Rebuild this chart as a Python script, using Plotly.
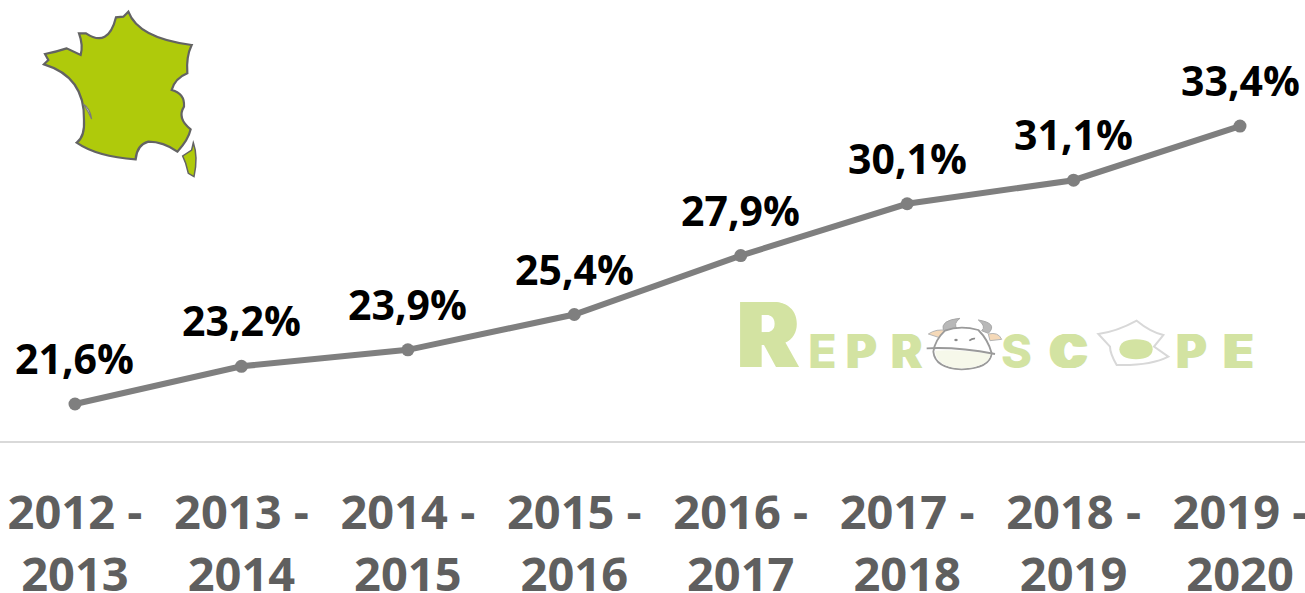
import plotly.graph_objects as go

seasons = ["2012 -<br>2013", "2013 -<br>2014", "2014 -<br>2015", "2015 -<br>2016",
           "2016 -<br>2017", "2017 -<br>2018", "2018 -<br>2019", "2019 -<br>2020"]
rates = [21.6, 23.2, 23.9, 25.4, 27.9, 30.1, 31.1, 33.4]
labels = ["21,6%", "23,2%", "23,9%", "25,4%", "27,9%", "30,1%", "31,1%", "33,4%"]

# The page is cropped by the window on the right, as in the reference.
W, H, PLOT_H = 1345, 593, 441


def paper_path(cmds):
    """cmds: list of (letter, x, y, ...) in page pixels -> path in paper coordinates"""
    out = []
    for c in cmds:
        if c[0] == "Z":
            out.append("Z")
            continue
        nums = c[1:]
        pts = []
        for i in range(0, len(nums), 2):
            pts.append(f"{nums[i] / W:.5f},{1 - nums[i + 1] / PLOT_H:.5f}")
        out.append(c[0] + " ".join(pts))
    return " ".join(out)


def fr(c):  # map crop coordinates
    if c[0] == "Z":
        return c
    r = [c[0]]
    for i in range(1, len(c), 2):
        r += [20 + c[i] / 3, c[i + 1] / 3]
    return tuple(r)


def lg(c):  # logo crop coordinates
    if c[0] == "Z":
        return c
    r = [c[0]]
    for i in range(1, len(c), 2):
        r += [920 + c[i] / 3, 310 + c[i + 1] / 3]
    return tuple(r)


france = [("M", 325, 35), ("Q", 355, 115, 515, 135), ("Q", 498, 170, 502, 220), ("Q", 465, 235, 455, 270),
          ("Q", 495, 280, 492, 320), ("Q", 470, 355, 512, 388), ("Q", 505, 420, 472, 455),
          ("Q", 430, 425, 385, 425), ("Q", 350, 435, 347, 478), ("Q", 230, 470, 170, 428),
          ("Q", 195, 410, 192, 360), ("Q", 195, 230, 72, 193), ("L", 85, 180), ("L", 75, 162),
          ("Q", 110, 155, 140, 145), ("L", 182, 165), ("Q", 190, 135, 177, 100), ("L", 198, 100),
          ("Q", 265, 145, 288, 52), ("L", 310, 50), ("Z",)]
corsica = [("M", 520, 428), ("Q", 535, 470, 522, 530), ("L", 505, 520), ("L", 497, 490), ("L", 488, 468),
           ("L", 515, 450), ("Z",)]
estuary = [("M", 190, 312), ("Q", 210, 325, 215, 357), ("Q", 205, 335, 190, 312), ("Z",)]

head = [("M", 75, 62), ("Q", 120, 45, 175, 60), ("Q", 205, 90, 215, 130), ("Q", 210, 175, 125, 178),
        ("Q", 45, 175, 40, 125), ("Q", 45, 90, 75, 62), ("Z",)]
muzzle_fill = [("M", 45, 122), ("Q", 120, 118, 212, 132), ("Q", 205, 172, 125, 175), ("Q", 50, 172, 45, 122), ("Z",)]
muzzle = [("M", 20, 115), ("Q", 110, 110, 225, 132)]
horn_l = [("M", 70, 62), ("Q", 60, 30, 120, 25), ("Q", 98, 40, 112, 58), ("Z",)]
horn_r = [("M", 205, 70), ("Q", 235, 40, 175, 30), ("Q", 200, 50, 185, 62), ("Z",)]
ear_l = [("M", 25, 72), ("Q", 50, 55, 80, 62), ("L", 65, 85), ("Z",)]
ear_r = [("M", 205, 72), ("Q", 235, 65, 245, 88), ("L", 210, 92), ("Z",)]
eye_l = [("M", 102, 90), ("Q", 108, 83, 114, 90), ("Q", 108, 97, 102, 90), ("Z",)]
eye_r = [("M", 148, 92), ("Q", 158, 84, 165, 86)]
egg = [("M", 535, 72), ("Q", 590, 65, 650, 32), ("Q", 690, 65, 730, 75), ("L", 702, 110), ("L", 745, 140),
       ("Q", 690, 168, 590, 165), ("Q", 570, 130, 570, 110), ("Z",)]
yolk = [("M", 598, 118), ("Q", 600, 88, 648, 88), ("Q", 698, 88, 698, 118), ("Q", 696, 148, 648, 148),
        ("Q", 600, 148, 598, 118), ("Z",)]

shapes = []
for p, fill, line, w in [
    (france, "#afca0b", "#636363", 2.2), (corsica, "#afca0b", "#636363", 1.5), (estuary, "#ffffff", "#7a7a7a", 1.2),
]:
    shapes.append(dict(type="path", xref="paper", yref="paper", layer="above",
                       path=paper_path([fr(c) for c in p]),
                       fillcolor=fill, line=dict(color=line, width=w)))
for p, fill, line, w in [
    (egg, "#ffffff", "#d8d8d8", 2), (yolk, "#d3e3a2", "#d3e3a2", 0),
    (horn_l, "#b8b8b8", "#a8a8a8", 1), (horn_r, "#b8b8b8", "#a8a8a8", 1),
    (ear_l, "#f5d9b8", "#b5b5b5", 1), (ear_r, "#f5d9b8", "#b5b5b5", 1),
    (head, "#ffffff", "#9a9a9a", 1.8), (muzzle_fill, "#f6f8ea", "#f6f8ea", 0), (muzzle, None, "#9a9a9a", 1.8),
    (eye_l, "#8a8a8a", "#8a8a8a", 0), (eye_r, None, "#8a8a8a", 1.8),
]:
    shapes.append(dict(type="path", xref="paper", yref="paper", layer="above",
                       path=paper_path([lg(c) for c in p]),
                       fillcolor=fill if fill else "rgba(0,0,0,0)", line=dict(color=line, width=w)))

GREEN = "#d3e3a2"


def widen(n):
    """Same-coloured horizontal shadows that widen a logo letter by n pixels each side."""
    if n == 0:
        return "none"
    return ", ".join(f"{s * k}px 0 0 {GREEN}" for k in range(1, n + 1) for s in (-1, 1))


# letter, centre x, centre y, size, widening
logo_letters = [("E", 822, 350, 47, 0), ("R", 768, 334, 90, 3), ("P", 861, 350, 47, 1), ("R", 906, 350, 47, 1),
                ("S", 1016, 350, 47, 0), ("C", 1068, 350, 47, 3), ("P", 1191, 350, 47, 1), ("E", 1238, 350, 47, 2)]
annotations = [dict(text=t, x=x / W, y=1 - y / PLOT_H, xref="paper", yref="paper", showarrow=False,
                    xanchor="center", yanchor="middle",
                    font=dict(family="Inter", size=s, color=GREEN, weight=800, shadow=widen(n)))
               for t, x, y, s, n in logo_letters]
annotations += [dict(text=t, x=i, y=v, xref="x", yref="y", showarrow=False, xanchor="center", yanchor="middle",
                     yshift=46, font=dict(family="Open Sans", size=41, color="#000000", weight="bold"))
                for i, (t, v) in enumerate(zip(labels, rates))]

fig = go.Figure(go.Scatter(
    x=list(range(len(rates))), y=rates, mode="lines+markers",
    line=dict(color="#7f7f7f", width=6), marker=dict(color="#7f7f7f", size=13),
))
fig.update_layout(
    width=W, height=H, margin=dict(l=0, r=0, t=0, b=H - PLOT_H, pad=0),
    paper_bgcolor="#ffffff", plot_bgcolor="#ffffff", showlegend=False,
    shapes=shapes, annotations=annotations,
    xaxis=dict(range=[-0.4506, (W - 75) / 166.43], tickmode="array", tickvals=list(range(len(seasons))),
               ticktext=seasons, showgrid=False, zeroline=False, showline=True, linecolor="#d9d9d9", linewidth=2,
               ticks="", tickangle=0, automargin=False, ticklabelstandoff=30,
               tickfont=dict(family="Open Sans", size=47, color="#5f5f5f", weight="bold")),
    yaxis=dict(range=[20.03, 38.75], visible=False, showgrid=False, zeroline=False),
)
fig.write_html("out.html", config={"displayModeBar": False},
               post_script="document.body.style.margin='0';document.body.style.overflow='hidden';"
                           "document.documentElement.style.overflow='hidden';")
